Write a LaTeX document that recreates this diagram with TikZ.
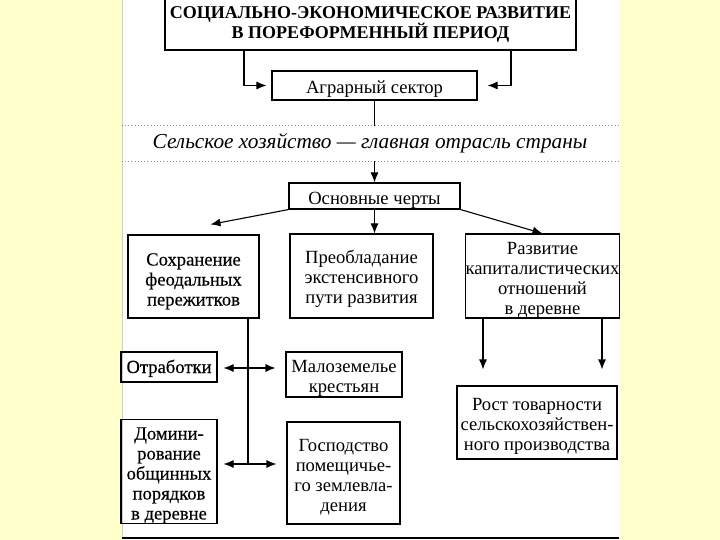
\documentclass[tikz,border=0pt]{standalone}
\usepackage{fontspec}
\setmainfont{Liberation Serif}
\newfontfamily\heavyfont[FakeBold=0.3]{Liberation Serif}
\usepackage{tikz}
\usetikzlibrary{arrows.meta}
\definecolor{paper}{RGB}{255,255,204}
\newcommand{\boxstrut}{\rule{0pt}{20pt}}
\tikzset{box/.style = {shape = rectangle, draw, align = center, inner sep = 0pt, line width = 1.1pt}}
\tikzset{edge/.style = {-, line width = 1.1pt}}
\tikzset{link/.style = {-{Latex[length = 10pt, width = 8pt]}, line width = 1.1pt}}
\tikzset{twoway/.style = {{Latex[length = 10pt, width = 8pt]}-{Latex[length = 10pt, width = 8pt]}, line width = 1.1pt}}
\tikzset{dots/.style = {gray!90, line width = 1.2pt, dash pattern = on 1pt off 2.2pt}}

\begin{document}
\begin{tikzpicture}[x = 1pt, y = -1pt, font = \fontsize{18.6}{20}\selectfont]
	\useasboundingbox (0, 0) rectangle (720, 540);
	\fill[paper] (0, 0) rectangle (720, 540);
	\fill[white] (122, 0) rectangle (619, 540);
	\draw[gray!40, line width = 1pt] (122, 0) -- (122, 538);
	\draw[line width = 1.3pt] (122, 538) -- (619, 538);

	\node[box, line width = 1.4pt, minimum width = 411, minimum height = 100, font = \fontsize{18}{19}\selectfont\bfseries] (title) at (370.5, 0) {\rule{0pt}{61pt}СОЦИАЛЬНО-ЭКОНОМИЧЕСКОЕ РАЗВИТИЕ\\В ПОРЕФОРМЕННЫЙ ПЕРИОД};
	\node[box, minimum width = 205, minimum height = 29] (agr) at (374.5, 85.5) {\boxstrut Аграрный сектор};
	\node[minimum width = 496, minimum height = 35, inner sep = 0pt, font = \fontsize{21.3}{22}\selectfont\itshape] (main) at (370, 143.5) {Сельское хозяйство — главная отрасль страны};
	\node[box, minimum width = 171, minimum height = 26] (osn) at (374.5, 196) {\boxstrut Основные черты};
	\node[box, minimum width = 131, minimum height = 83, font = \fontsize{18.6}{20}\heavyfont] (feod) at (193.5, 276.5) {\rule{0pt}{22pt}Сохранение\\феодальных\\пережитков};
	\node[box, minimum width = 143, minimum height = 84] (pre) at (361.5, 276) {\boxstrut Преобладание\\экстенсивного\\пути развития};
	\node[box, minimum width = 151, minimum height = 84] (razv) at (542.5, 276) {\boxstrut Развитие\\капиталистических\\отношений\\в деревне};
	\node[box, minimum width = 96, minimum height = 30, font = \fontsize{18.6}{20}\heavyfont] (otr) at (169, 367) {\rule{0pt}{16pt}Отработки};
	\node[box, minimum width = 116, minimum height = 45] (malo) at (344, 374.5) {\boxstrut Малоземелье\\крестьян};
	\node[box, minimum width = 96, minimum height = 103, font = \fontsize{18.6}{20}\heavyfont] (dom) at (169, 471.5) {\boxstrut Домини-\\рование\\общинных\\порядков\\в деревне};
	\node[box, minimum width = 113, minimum height = 102] (gosp) at (343.5, 473) {\boxstrut Господство\\помещичье-\\го землевла-\\дения};
	\node[box, minimum width = 160, minimum height = 73] (rost) at (537, 422.5) {\boxstrut Рост товарности\\сельскохозяйствен-\\ного производства};

	\coordinate (split) at (248, 368);
	\coordinate (fork) at (248, 464);

	\draw[link, shorten >= 5pt] ([xshift = -126.5pt]title.south) |- (agr.west);
	\draw[link, shorten >= 10pt] ([xshift = 140.5pt]title.south) |- (agr.east);
	\draw[edge] (agr.south) to (agr.south |- main.north);
	\draw[dots] (main.north west) to (main.north east);
	\draw[dots] (main.south west) to (main.south east);
	\draw[link] (osn.north |- main.south) to (osn.north);
	\draw[link] (osn.south west) to ([xshift = 17pt, yshift = 10pt]feod.north);
	\draw[link] (osn.south) to (osn.south |- pre.north);
	\draw[link] (osn.south east) to (razv.north);
	\draw[edge] (split |- feod.south) to (fork);
	\draw[twoway, shorten <= 6pt, shorten >= 10pt] (split -| otr.east) to (split -| malo.west);
	\draw[twoway, shorten <= 6pt, shorten >= 10pt] (fork -| dom.east) to (fork -| gosp.west);
	\draw[link, shorten >= 16pt] ([xshift = -59.5pt]razv.south) to ([xshift = -59.5pt]razv.south |- rost.north);
	\draw[link, shorten >= 16pt] ([xshift = 59.5pt]razv.south) to ([xshift = 59.5pt]razv.south |- rost.north);
\end{tikzpicture}
\end{document}
